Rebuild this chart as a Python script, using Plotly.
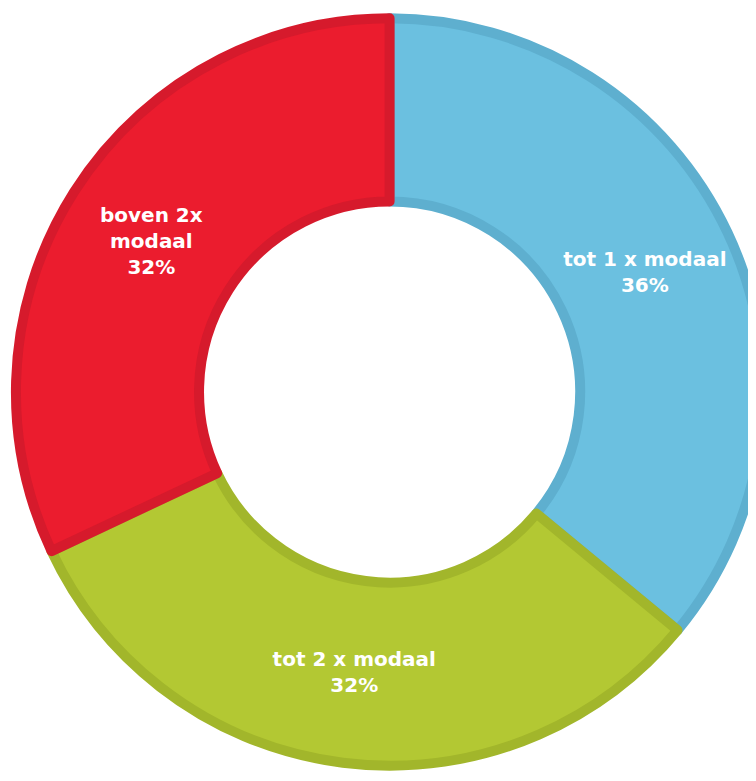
import plotly.graph_objects as go

categories = ["tot 1 x modaal", "tot 2 x modaal", "boven 2x modaal"]
display_labels = ["tot 1 x modaal", "tot 2 x modaal", "boven 2x<br>modaal"]
values = [36, 32, 32]
fill_colors = ["#6BC0E0", "#B3C833", "#EB1C2E"]
border_colors = ["#5EAFCF", "#A2B62B", "#D61A2C"]

W, H = 756, 781

fig = go.Figure(
    go.Pie(
        labels=categories,
        values=values,
        text=display_labels,
        texttemplate="%{text}<br>%{percent:.0%}",
        textposition="inside",
        insidetextorientation="horizontal",
        sort=False,
        direction="clockwise",
        rotation=0,
        hole=0.51,
        marker=dict(colors=fill_colors, line=dict(color=border_colors, width=10)),
        textfont=dict(family="DejaVu Sans", size=20, color="white", weight="bold"),
        domain=dict(x=[0.0105, 0.999], y=[0.0233, 0.9933]),
        showlegend=False,
        hoverinfo="skip",
    )
)

fig.update_layout(
    width=W,
    height=H,
    margin=dict(l=0, r=0, t=0, b=0),
    paper_bgcolor="white",
    plot_bgcolor="white",
    uniformtext=dict(minsize=20, mode="show"),
)

fig.write_html("out.html")
